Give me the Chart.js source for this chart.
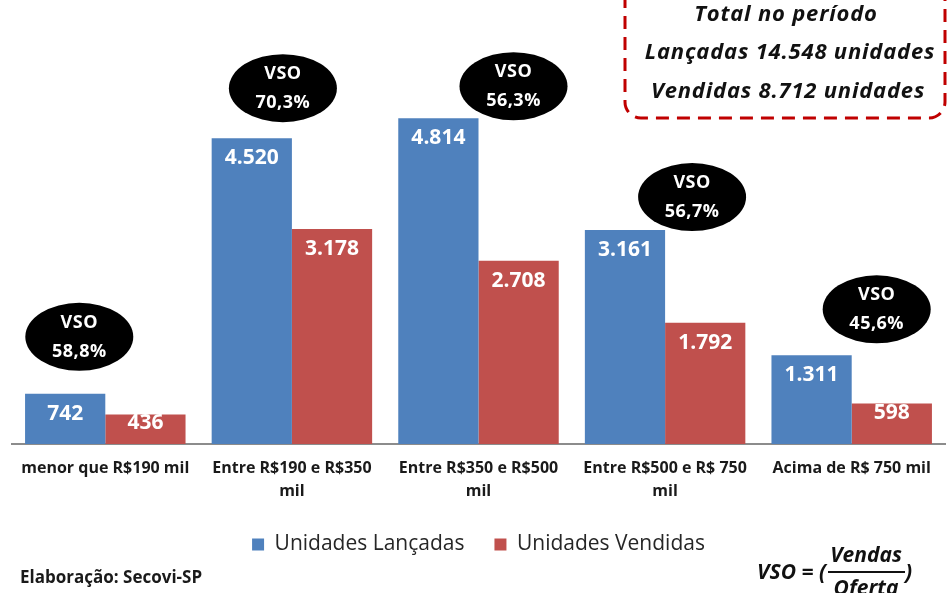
<!DOCTYPE html>
<html>
<head>
<meta charset="utf-8">
<script src="https://cdn.jsdelivr.net/npm/chart.js@4"></script>
<style>html,body{margin:0;padding:0;background:#fff}</style>
</head>
<body>
<canvas id="c" width="948" height="593"></canvas>
<script>
// faixas de preço e unidades
const faixas = ['menor que R$190 mil', ['Entre R$190 e R$350', 'mil'], ['Entre R$350 e R$500', 'mil'], ['Entre R$500 e R$ 750', 'mil'], 'Acima de R$ 750 mil'];
const lancadas = [742, 4520, 4814, 3161, 1311];
const vendidas = [436, 3178, 2708, 1792, 598];
const nomes = ['Unidades Lançadas', 'Unidades Vendidas'];

const FONT = '"Open Sans", Lato, sans-serif';
const AZUL = '#4f81bd';
const VERMELHO = '#c0504d';

function fmt(n) { return String(n).replace(/\B(?=(\d{3})+(?!\d))/g, '.'); }
function vso(v, o) { return (v / o * 100).toFixed(1).replace('.', ',') + '%'; }
const sum = a => a.reduce((s, x) => s + x, 0);

// valores dentro das barras
const barLabels = {
    id: 'barLabels',
    afterDatasetsDraw(chart) {
        const ctx = chart.ctx;
        ctx.save();
        ctx.font = 'bold 21px ' + FONT;
        ctx.fillStyle = '#fff';
        ctx.textAlign = 'center';
        ctx.textBaseline = 'middle';
        chart.data.datasets.forEach((ds, di) => {
            chart.getDatasetMeta(di).data.forEach((bar, i) => {
                const h = bar.base - bar.y;
                ctx.fillText(fmt(ds.data[i]), bar.x, h < 42 ? bar.y + 9 : bar.y + 20);
            });
        });
        ctx.restore();
    }
};

// balões pretos com o VSO
const vsoBalloons = {
    id: 'vsoBalloons',
    afterDraw(chart, args, opts) {
        const ctx = chart.ctx;
        const meta = chart.getDatasetMeta(0);
        ctx.save();
        lancadas.forEach((o, i) => {
            const [dx, dy] = opts.shift[i];
            const cx = chart.scales.x.getPixelForValue(i) + dx;
            const cy = meta.data[i].y - dy;
            ctx.fillStyle = '#000';
            ctx.beginPath();
            ctx.ellipse(cx, cy, 54, 34, 0, 0, Math.PI * 2);
            ctx.fill();
            ctx.fillStyle = '#fff';
            ctx.font = 'bold 18px ' + FONT;
            ctx.letterSpacing = '0.5px';
            ctx.textAlign = 'center';
            ctx.textBaseline = 'middle';
            ctx.fillText('VSO', cx, cy - 14);
            ctx.fillText(vso(vendidas[i], o), cx, cy + 15);
        });
        ctx.restore();
    }
};

// caixa de totais e rodapé
const extras = {
    id: 'extras',
    afterDraw(chart) {
        const ctx = chart.ctx;
        ctx.save();
        // caixa tracejada
        ctx.strokeStyle = '#c00000';
        ctx.lineWidth = 3;
        ctx.setLineDash([13, 8]);
        ctx.beginPath();
        ctx.roundRect(625, -30, 320, 148, 16);
        ctx.stroke();
        ctx.setLineDash([]);
        ctx.fillStyle = '#111';
        ctx.font = 'italic bold 22px ' + FONT;
        ctx.letterSpacing = '0.8px';
        ctx.textAlign = 'center';
        ctx.textBaseline = 'middle';
        ctx.fillText('Total no período', 786, 15);
        ctx.fillText('Lançadas ' + fmt(sum(lancadas)) + ' unidades', 790, 53);
        ctx.fillText('Vendidas ' + fmt(sum(vendidas)) + ' unidades', 788, 92);
        ctx.letterSpacing = '0px';

        // fonte
        ctx.textAlign = 'left';
        ctx.font = 'bold 17px ' + FONT;
        ctx.fillStyle = '#1a1a1a';
        ctx.fillText('Elaboração: Secovi-SP', 20, 578);

        // fórmula
        ctx.font = 'italic bold 21px ' + FONT;
        ctx.fillStyle = '#111';
        ctx.textAlign = 'right';
        ctx.fillText('VSO = (', 826, 573);
        ctx.textAlign = 'center';
        ctx.fillText('Vendas', 866, 556);
        ctx.fillText('Oferta', 866, 589);
        ctx.textAlign = 'left';
        ctx.fillText(')', 905, 573);
        ctx.fillRect(828, 571, 77, 2);
        ctx.restore();
    }
};

new Chart(document.getElementById('c'), {
    type: 'bar',
    data: {
        labels: faixas,
        datasets: [
            { label: nomes[0], data: lancadas, backgroundColor: AZUL },
            { label: nomes[1], data: vendidas, backgroundColor: VERMELHO }
        ]
    },
    options: {
        responsive: false,
        animation: false,
        layout: { padding: { left: 12, right: 3, top: 38, bottom: 28 } },
        datasets: { bar: { categoryPercentage: 0.86, barPercentage: 1 } },
        scales: {
            x: {
                grid: { display: false, drawTicks: false },
                border: { color: '#8c8c8c', width: 2 },
                ticks: {
                    color: '#1a1a1a',
                    maxRotation: 0,
                    padding: 13,
                    font: { family: FONT, size: 16, weight: 'bold', lineHeight: 1.45 }
                },
                afterFit(scale) { scale.height = 60; }
            },
            y: { display: false, min: 0, max: 6000 }
        },
        plugins: {
            legend: {
                position: 'bottom',
                labels: {
                    boxWidth: 12,
                    boxHeight: 12,
                    padding: 30,
                    color: '#262626',
                    font: { family: FONT, size: 21 }
                }
            },
            tooltip: { enabled: false },
            vsoBalloons: { shift: [[-26, 57], [-9, 50], [35, 32], [27, 33], [25, 46]] }
        }
    },
    plugins: [barLabels, vsoBalloons, extras]
});
</script>
</body>
</html>
